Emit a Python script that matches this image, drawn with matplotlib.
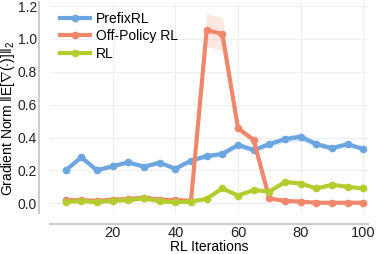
import matplotlib
matplotlib.use("Agg")
import matplotlib.pyplot as plt
import numpy as np

iters = [5, 10, 15, 20, 25, 30, 35, 40, 45, 50, 55, 60, 65, 70, 75, 80, 85, 90, 95, 100]

prefix_rl = [0.20, 0.28, 0.20, 0.226, 0.249, 0.222, 0.247, 0.21, 0.26, 0.287,
             0.30, 0.355, 0.324, 0.36, 0.39, 0.405, 0.36, 0.335, 0.36, 0.33]
prefix_std = [0.01, 0.012, 0.01, 0.01, 0.012, 0.01, 0.01, 0.01, 0.012, 0.015,
              0.015, 0.018, 0.015, 0.018, 0.02, 0.025, 0.02, 0.018, 0.018, 0.015]

offpolicy_rl = [0.02, 0.018, 0.015, 0.022, 0.025, 0.035, 0.022, 0.02, 0.015, 1.055,
                1.03, 0.457, 0.385, 0.029, 0.014, 0.01, 0.003, 0.003, 0.003, 0.003]
offpolicy_std = [0.005, 0.005, 0.005, 0.005, 0.005, 0.008, 0.005, 0.005, 0.005, 0.10,
                 0.10, 0.02, 0.02, 0.005, 0.004, 0.003, 0.002, 0.002, 0.002, 0.002]

rl = [0.008, 0.014, 0.006, 0.016, 0.018, 0.03, 0.012, 0.006, 0.01, 0.027,
      0.09, 0.047, 0.08, 0.071, 0.13, 0.12, 0.09, 0.112, 0.10, 0.09]

series = [
    ("PrefixRL", prefix_rl, prefix_std, "#6ca6e0"),
    ("Off-Policy RL", offpolicy_rl, offpolicy_std, "#f0876a"),
    ("RL", rl, None, "#b5cc2e"),
]

plt.rcParams["font.family"] = ["Liberation Sans", "DejaVu Sans"]
plt.rcParams["mathtext.fontset"] = "custom"
plt.rcParams["mathtext.rm"] = "Liberation Sans"
plt.rcParams["mathtext.it"] = "Liberation Sans:italic"

fig = plt.figure(figsize=(3.79, 2.54), dpi=100)
ax = fig.add_axes([0.132, 0.161, 0.839, 0.831])

for name, vals, std, color in series:
    x = np.array(iters)
    y = np.array(vals)
    if std is not None:
        s = np.array(std)
        ax.fill_between(x, y - s, y + s, color=color, alpha=0.2, linewidth=0)
    ax.plot(x, y, color=color, lw=3, marker="o", ms=4.5, label=name)

ax.set_xlim(0, 101.5)
ax.set_ylim(-0.06, 1.225)
ax.set_xticks([20, 40, 60, 80, 100])
ax.set_yticks([0.0, 0.2, 0.4, 0.6, 0.8, 1.0, 1.2])
ax.grid(True, color="#eeeeee", lw=0.8)
ax.set_axisbelow(True)
for side in ["top", "right"]:
    ax.spines[side].set_visible(False)
for side in ["left", "bottom"]:
    ax.spines[side].set_position(("outward", 8))
    ax.spines[side].set_color("#cccccc")
    ax.spines[side].set_linewidth(1.5)
ax.tick_params(length=0, labelsize=10.5, colors="#222222")
ax.tick_params(axis="y", labelsize=10, pad=1.5)
ax.tick_params(axis="x", pad=1)

ax.set_xlabel("RL Iterations", fontsize=10, labelpad=0)
ax.set_ylabel(r"Gradient Norm $\|\mathrm{E}[\nabla(\cdot)]\|_2$", fontsize=10)
ax.yaxis.set_label_coords(-0.104, 0.45)

ax.legend(loc="upper left", frameon=False, fontsize=10, handlelength=2.2,
          handletextpad=0.4, labelspacing=0.25, borderaxespad=0.3,
          bbox_to_anchor=(0.0, 1.0))

fig.savefig("out.png", dpi=100)
